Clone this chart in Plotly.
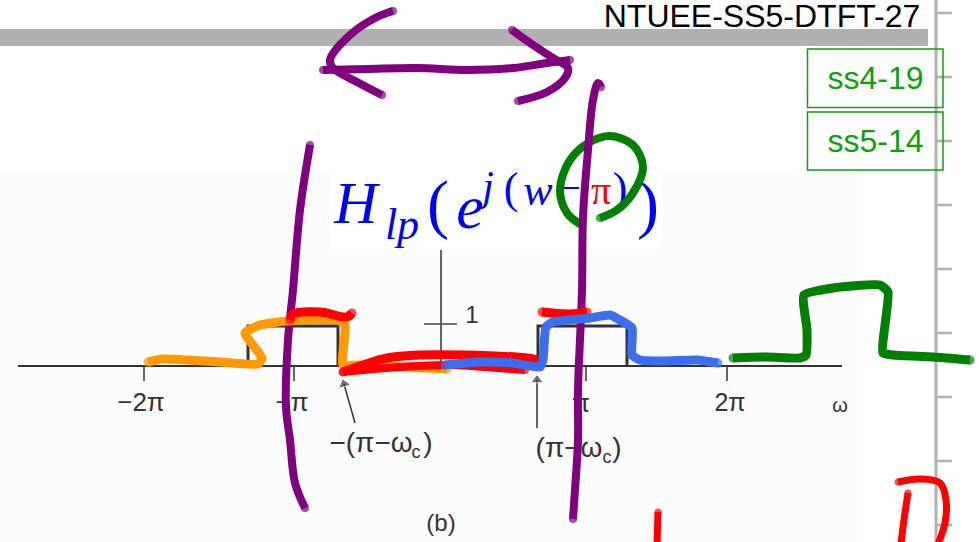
import plotly.graph_objects as go

# ---- slide furniture (read in pixels of the picture) ----
rail_tick_y = [13, 77, 141, 205, 269, 333, 397, 461, 525]

# ---- scanned plot ----
axis_x = [18, 842]
axis_y = [366, 366]
v_axis_x = [441, 441]
v_axis_y = [250, 366]
unit_tick_x = [424, 457]
unit_tick_y = [324, 324]
x_tick_pos = [144, 294, 586, 727]
pulse_left_x = [248, 248, 338, 338]
pulse_right_x = [538, 538, 627, 627]
pulse_y = [366, 326, 326, 366]
arrow_l_x = [355, 344]
arrow_l_y = [423, 384]
arrow_r_x = [537, 537]
arrow_r_y = [428, 380]

plot_labels = ["1", "−2π", "−π", "π", "2π", "ω", "−(π−ω", "c", ")", "(π−ω", "c", ")", "(b)"]
plot_label_x = [472, 141, 292, 581, 730, 840, 371, 416, 428, 569, 607, 617, 441]
plot_label_y = [317, 404, 404, 405, 405, 407, 445, 453, 445, 450, 458, 450, 525]
plot_label_s = [24, 26, 26, 26, 25, 20, 28, 18, 28, 28, 18, 28, 24]

# ---- formula ----
formula_parts = ["H", "lp", "(", "e", "j", "(", "w", "−", "π", ")", ")"]
formula_x = [356, 402, 438, 470, 488, 511, 538, 569, 601, 620, 648]
formula_y = [208, 228, 209, 212, 189, 192, 194, 191, 194, 192, 209]
formula_s = [60, 44, 66, 62, 42, 44, 44, 42, 40, 44, 66]
formula_c = ["#0000ff"] * 8 + ["#ff0000"] + ["#0000ff"] * 2
formula_i = ["italic", "italic", "normal", "italic", "italic", "normal", "italic", "normal", "normal", "normal", "normal"]

# ---- hand strokes ----
purple_head_l_x = [393, 377, 350, 330, 333, 357, 382]
purple_head_l_y = [11, 17, 35, 60, 68, 82, 95]
purple_shaft_x = [323, 367, 417, 467, 513, 547, 570]
purple_shaft_y = [70, 69, 68, 70, 68, 63, 60]
purple_head_r_x = [512, 533, 553, 568, 565, 547, 518]
purple_head_r_y = [30, 45, 58, 68, 78, 92, 101]
purple_right_x = [601, 598, 593, 588, 583, 582, 578, 578, 575, 573]
purple_right_y = [87, 83, 100, 150, 217, 290, 390, 440, 490, 519]
purple_left_x = [310, 300, 293, 288, 286, 290, 295, 305]
purple_left_y = [145, 210, 290, 340, 407, 440, 483, 508]

green_loop_x = [580, 567, 560, 570, 590, 610, 633, 643, 633, 617, 600]
green_loop_y = [224, 213, 190, 160, 142, 136, 145, 167, 193, 210, 218]
green_wave_x = [733, 767, 800, 806, 807, 804, 833, 880, 888, 883, 893, 933, 970]
green_wave_y = [358, 357, 358, 355, 330, 295, 288, 285, 292, 353, 355, 357, 360]

orange_x = [148, 163, 220, 258, 262, 245, 260, 287, 337, 345, 343, 360, 447]
orange_y = [362, 359, 362, 364, 358, 333, 325, 321, 320, 325, 365, 365, 369]

red_a_x = [290, 293, 320, 347, 352]
red_a_y = [320, 314, 312, 317, 313]
red_b_x = [343, 360, 387, 420, 463, 527, 537]
red_b_y = [372, 366, 358, 355, 355, 358, 360]
red_c_x = [343, 400, 450, 510, 525]
red_c_y = [372, 367, 365, 369, 370]
red_d_x = [542, 570, 587]
red_d_y = [312, 314, 312]
red_e_x = [898, 920, 940, 946, 945, 938]
red_e_y = [482, 479, 483, 500, 523, 544]
red_f_x = [908, 903, 901]
red_f_y = [493, 527, 544]
red_g_x = [658, 657]
red_g_y = [512, 544]

blue_x = [445, 480, 513, 540, 543, 546, 553, 590, 610, 620, 632, 632, 640, 663, 697, 718]
blue_y = [365, 362, 363, 367, 360, 327, 322, 318, 315, 320, 328, 355, 360, 361, 360, 363]

fig = go.Figure()


def ink(x, y, color, width, smooth=1.0):
    sizes = [width] + [0] * (len(x) - 2) + [width]
    fig.add_trace(go.Scatter(
        x=x, y=y, mode="lines+markers",
        line=dict(color=color, width=width, shape="spline", smoothing=smooth),
        marker=dict(color=color, size=sizes, line=dict(width=0)),
        hoverinfo="skip"))


def straight(x, y, color="#333333", width=1.5):
    fig.add_trace(go.Scatter(x=x, y=y, mode="lines", line=dict(color=color, width=width), hoverinfo="skip"))


def label(x, y, text, size, color, family="Liberation Sans", style="normal"):
    fig.add_trace(go.Scatter(
        x=[x], y=[y], mode="text", text=[text], textposition="middle center",
        textfont=dict(family=family, size=size, color=color, style=style), hoverinfo="skip"))


# rail
straight([936, 936], [0, 542], "#b0b0b0", 3)
for ty in rail_tick_y:
    straight([936, 952], [ty, ty], "#b0b0b0", 2.5)

# plot lines
straight(axis_x, axis_y, "#333333", 2)
straight(v_axis_x, v_axis_y, "#333333", 1.5)
straight(unit_tick_x, unit_tick_y, "#444444", 1.5)
for tx in x_tick_pos:
    straight([tx, tx], [366, 381], "#333333", 1.5)
straight(pulse_left_x, pulse_y, "#333333", 3)
straight(pulse_right_x, pulse_y, "#333333", 3)
for ax_, ay_ in ((arrow_l_x, arrow_l_y), (arrow_r_x, arrow_r_y)):
    fig.add_trace(go.Scatter(
        x=ax_, y=ay_, mode="lines+markers", line=dict(color="#333333", width=1.5),
        marker=dict(symbol="triangle-up", size=[0, 11], angleref="previous", color="#333333"),
        hoverinfo="skip"))
for t, x, y, s in zip(plot_labels, plot_label_x, plot_label_y, plot_label_s):
    label(x, y, t, s, "#333333")

# formula
for t, x, y, s, c, i in zip(formula_parts, formula_x, formula_y, formula_s, formula_c, formula_i):
    label(x, y, t, s, c, "Liberation Serif", i)

# header and reference boxes
label(762, 18.5, "NTUEE-SS5-DTFT-27", 32, "#000000")
label(875.5, 80.5, "ss4-19", 32, "#0ca00c")
label(875.5, 143.5, "ss5-14", 32, "#0ca00c")

# hand strokes
ink(green_loop_x, green_loop_y, "#008000", 8)
ink(purple_right_x, purple_right_y, "#800080", 8)
ink(purple_left_x, purple_left_y, "#800080", 8)
ink(purple_head_l_x, purple_head_l_y, "#800080", 8)
ink(purple_shaft_x, purple_shaft_y, "#800080", 8)
ink(purple_head_r_x, purple_head_r_y, "#800080", 8)
ink(orange_x, orange_y, "#ff9900", 9, 0.5)
ink(red_a_x, red_a_y, "#ff0000", 9)
ink(red_b_x, red_b_y, "#ff0000", 9)
ink(red_c_x, red_c_y, "#ff0000", 8)
ink(red_d_x, red_d_y, "#ff0000", 9)
ink(blue_x, blue_y, "#3c6ef0", 9, 0.5)
ink(green_wave_x, green_wave_y, "#008000", 9, 0.5)
ink(red_e_x, red_e_y, "#ff0000", 7)
ink(red_f_x, red_f_y, "#ff0000", 7)
ink(red_g_x, red_g_y, "#ff0000", 7)

fig.update_layout(
    width=980, height=542, margin=dict(l=0, r=0, t=0, b=0),
    paper_bgcolor="#ffffff", plot_bgcolor="#ffffff", showlegend=False,
    xaxis=dict(range=[0, 980], visible=False, fixedrange=True),
    yaxis=dict(range=[542, 0], visible=False, fixedrange=True),
    shapes=[
        dict(type="rect", layer="below", x0=0, x1=857, y0=172, y1=542, line_width=0, fillcolor="#fcfcfc"),
        dict(type="rect", layer="below", x0=330, x1=660, y0=172, y1=250, line_width=0, fillcolor="#ffffff"),
        dict(type="rect", layer="below", x0=0, x1=928, y0=29, y1=46, line_width=0, fillcolor="#b0b0b0"),
        dict(type="rect", layer="above", x0=807.5, x1=943, y0=49, y1=107.5, line=dict(color="#0ca00c", width=1.5)),
        dict(type="rect", layer="above", x0=807.5, x1=943, y0=112, y1=170, line=dict(color="#0ca00c", width=1.5)),
    ],
)
fig.write_html("out.html", config=dict(displayModeBar=False),
               post_script="document.body.style.margin='0';document.body.style.overflow='hidden';")
